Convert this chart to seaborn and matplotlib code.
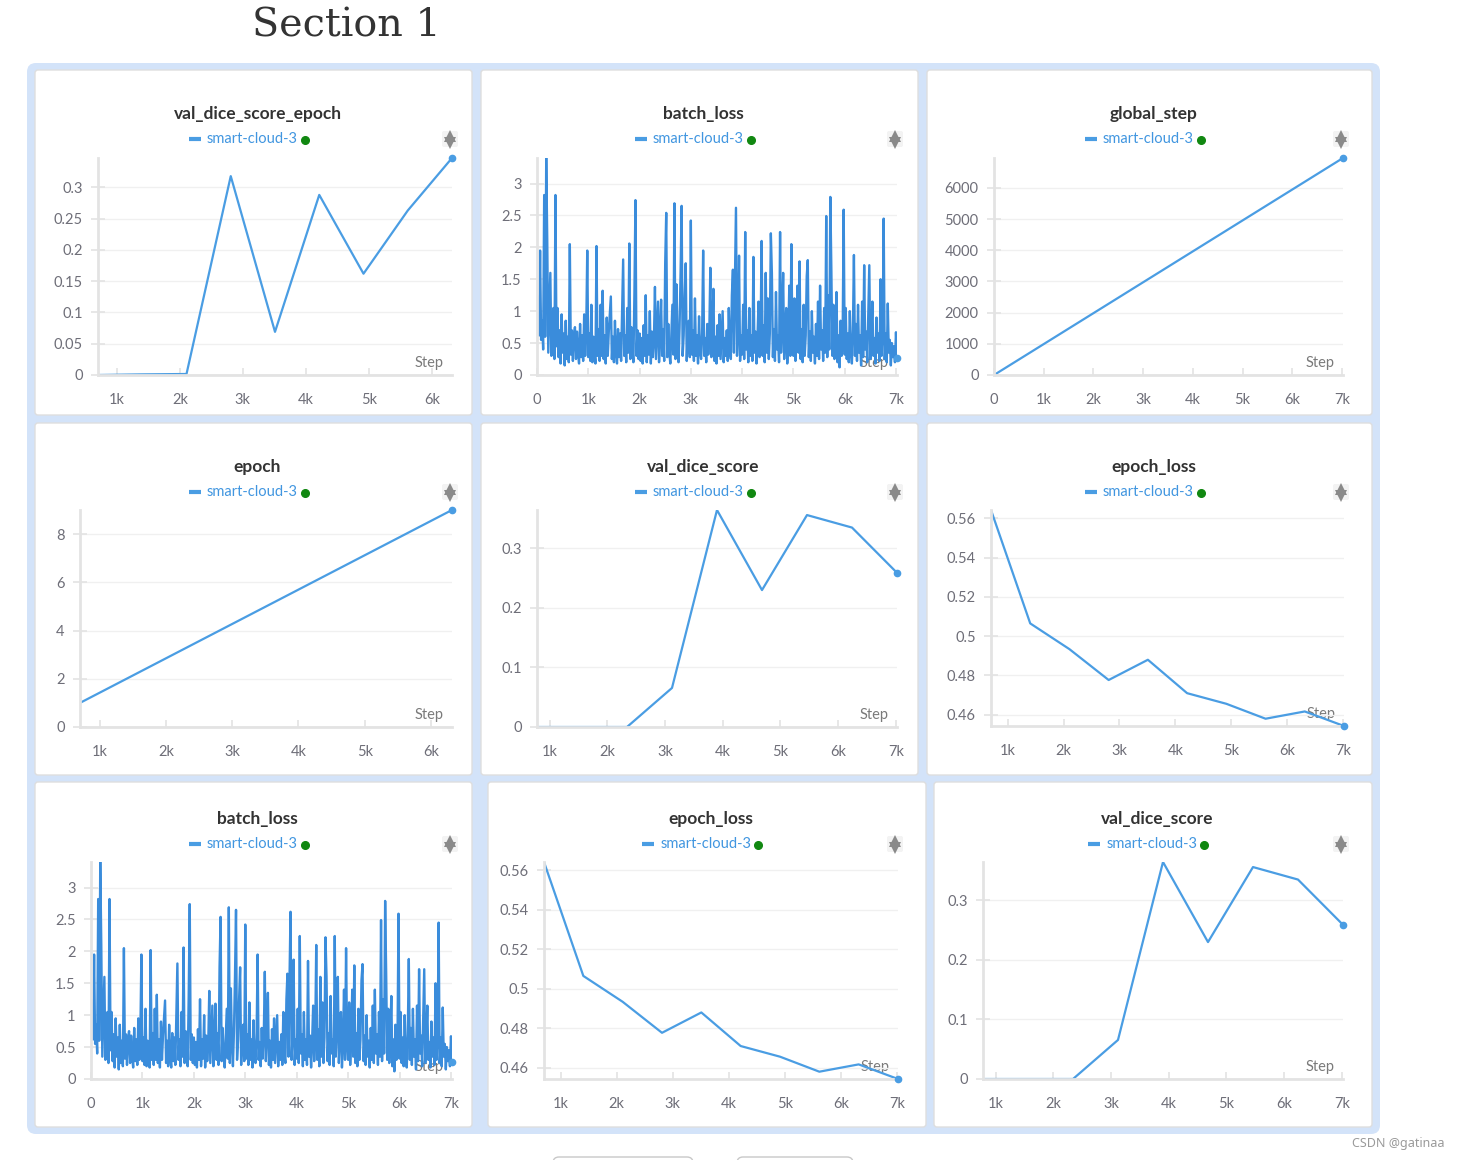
import numpy as np
import pandas as pd
import matplotlib
matplotlib.use('Agg')
import matplotlib.pyplot as plt
from matplotlib.patches import FancyBboxPatch
from matplotlib.ticker import FuncFormatter, MultipleLocator
import seaborn as sns

# ---- data ----
epoch_steps = [702, 1404, 2106, 2808, 3510, 4212, 4914, 5616, 6318, 7020]
val_dice_score_epoch = [0.0, 0.001, 0.0016, 0.318, 0.069, 0.288, 0.162, 0.263, 0.347]
epoch_values = [1, 2, 3, 4, 5, 6, 7, 8, 9]
epoch_loss = [0.5642, 0.5065, 0.4934, 0.4777, 0.4880, 0.4710, 0.4656, 0.4580, 0.4617, 0.4543]

val_steps = [780, 1560, 2340, 3120, 3900, 4680, 5460, 6240, 7020]
val_dice_score = [0.0, 0.0, 0.0, 0.0656, 0.3645, 0.230, 0.356, 0.335, 0.259]

global_step_x = [0, 7020]
global_step_y = [0, 6960]

# batch_loss, one value every 20 steps
batch_loss = [
    1.25, 0.80, 0.62, 1.95, 0.55, 0.85, 0.40, 2.82, 0.60, 3.40,
    2.10, 0.35, 0.95, 1.60, 0.30, 0.80, 1.05, 0.25, 2.82, 0.45,
    1.05, 0.28, 0.70, 0.18, 0.95, 0.35, 0.65, 0.15, 0.85, 0.25,
    0.60, 0.20, 2.05, 0.32, 0.70, 0.22, 0.62, 0.75, 0.25, 0.68,
    0.35, 0.18, 0.80, 0.28, 0.62, 0.22, 0.95, 0.30, 0.70, 1.95,
    0.28, 0.65, 0.22, 1.10, 0.20, 0.60, 0.35, 0.18, 2.02, 0.30,
    0.72, 0.22, 1.10, 0.30, 1.32, 0.25, 0.62, 0.18, 0.90, 0.30,
    0.68, 0.95, 1.23, 0.25, 0.60, 0.20, 0.85, 0.35, 0.18, 0.72,
    0.28, 0.65, 0.22, 1.00, 1.81, 0.30, 0.62, 0.20, 1.05, 0.35,
    2.06, 0.25, 0.75, 0.42, 0.20, 1.30, 2.74, 0.30, 0.70, 0.25,
    0.65, 0.22, 0.58, 0.18, 0.78, 0.30, 1.25, 0.20, 0.62, 0.32,
    1.00, 0.18, 0.68, 0.28, 0.55, 1.38, 0.25, 0.70, 1.15, 0.20,
    0.60, 1.18, 0.30, 0.72, 0.22, 1.75, 2.54, 0.28, 0.80, 0.35,
    0.18, 0.65, 1.10, 0.32, 2.69, 0.25, 1.42, 0.58, 0.20, 0.75,
    1.60, 2.65, 0.30, 0.62, 1.25, 1.75, 0.22, 0.68, 0.85, 0.28,
    2.42, 0.32, 0.70, 0.22, 1.20, 0.30, 0.62, 0.18, 0.92, 0.35,
    0.25, 0.65, 1.95, 0.30, 0.58, 0.20, 0.80, 0.32, 0.68, 1.68,
    0.28, 0.72, 1.35, 0.22, 0.60, 0.18, 0.78, 0.30, 0.95, 0.25,
    0.62, 1.00, 0.20, 0.58, 0.30, 0.70, 0.22, 1.05, 0.38, 0.25,
    1.25, 1.65, 0.35, 1.55, 2.62, 0.30, 0.70, 1.87, 0.22, 0.62,
    0.32, 1.10, 0.25, 2.24, 0.40, 0.70, 0.20, 1.05, 0.30, 0.62,
    0.22, 1.85, 0.35, 0.68, 0.18, 0.60, 1.15, 0.28, 0.65, 2.10,
    0.30, 0.78, 0.20, 1.60, 0.35, 1.20, 0.25, 0.65, 2.22, 1.60,
    0.28, 0.72, 0.22, 1.30, 0.40, 0.62, 0.20, 2.24, 0.35, 0.85,
    1.60, 0.25, 0.68, 1.05, 0.18, 0.60, 1.40, 0.30, 2.05, 0.55,
    0.30, 1.20, 0.22, 0.65, 1.40, 0.35, 1.78, 0.25, 0.72, 0.20,
    1.10, 0.30, 0.62, 1.55, 1.80, 0.28, 0.68, 0.22, 1.00, 0.35,
    0.60, 0.18, 0.80, 0.30, 1.15, 0.25, 1.40, 0.40, 0.70, 0.22,
    1.05, 0.35, 2.49, 0.28, 1.25, 0.40, 2.79, 1.65, 0.30, 1.10,
    0.25, 0.65, 1.30, 0.20, 0.62, 0.12, 0.85, 0.30, 0.58, 2.59,
    0.32, 1.05, 0.25, 0.65, 0.20, 1.00, 0.38, 0.18, 0.70, 1.88,
    0.30, 0.80, 0.22, 1.10, 0.35, 0.62, 0.15, 1.15, 0.28, 1.72,
    0.40, 0.68, 0.20, 1.00, 1.72, 0.25, 0.62, 1.15, 0.30, 0.58,
    0.18, 0.90, 0.35, 0.65, 0.22, 1.50, 0.30, 0.60, 2.45, 0.25,
    0.65, 0.20, 1.12, 0.35, 0.55, 0.15, 0.50, 0.28, 0.45, 0.20,
    0.67, 0.27,
]
batch_steps = np.arange(len(batch_loss)) * 20

run_name = 'smart-cloud-3'

# ---- figure setup ----
W, H = 1460, 1160
sns.set_theme(style='white')
plt.rcParams['font.family'] = ['Lato', 'DejaVu Sans']

LINE = '#4a9de3'
DENSE = '#3a8cdb'
TICK_TXT = '#6e6e78'
AXIS_C = '#e3e3e3'

fig = plt.figure(figsize=(W / 100, H / 100), dpi=100)
fig.patch.set_facecolor('white')
bg = fig.add_axes([0, 0, 1, 1], zorder=0)
bg.set_xlim(0, W)
bg.set_ylim(H, 0)
bg.axis('off')


def px_rect(x0, y0, x1, y1):
    return [x0 / W, 1 - y1 / H, (x1 - x0) / W, (y1 - y0) / H]


bg.text(346, 26, 'Section 1', ha='center', va='center', fontsize=28.5,
        family='DejaVu Serif', color='#333333')

# light blue section container
bg.add_patch(FancyBboxPatch((27, 63), 1353, 1071,
                            boxstyle='round,pad=0,rounding_size=9',
                            fc='#d3e3f9', ec='none'))
# half hidden buttons at the very bottom
for bx, bw in [(553, 140), (737, 116)]:
    bg.add_patch(FancyBboxPatch((bx, 1157), bw, 30,
                                boxstyle='round,pad=0,rounding_size=6',
                                fc='white', ec='#c8c8c8', lw=1))

bg.text(1445, 1143, 'CSDN @gatinaa', ha='right', va='center', fontsize=9,
        color='#9a9a9a', family=['Noto Sans', 'DejaVu Sans'])


def kfmt(v, p):
    if abs(v) < 1e-9:
        return '0'
    return f'{v / 1000:g}k'


panels = [
    # title, x, y, panel box, axes box, y tick step, icon x, line width, ymin, header offset
    ('val_dice_score_epoch', epoch_steps[:9], val_dice_score_epoch,
     (35, 70, 472, 415), (98, 158, 452, 375), 0.05, 450, 1.6, 0.0, 44),
    ('batch_loss', batch_steps, batch_loss,
     (481, 70, 918, 415), (537, 158, 897, 375), 0.5, 895, 1.7, 0.0, 44),
    ('global_step', global_step_x, global_step_y,
     (927, 70, 1372, 415), (994, 158, 1343, 375), 1000, 1341, 1.6, 0.0, 44),
    ('epoch', epoch_steps[:9], epoch_values,
     (35, 423, 472, 775), (80, 510, 452, 727), 2, 450, 1.6, 0.0, 44),
    ('val_dice_score', val_steps, val_dice_score,
     (481, 423, 918, 775), (537, 510, 897, 727), 0.1, 895, 1.6, 0.0, 44),
    ('epoch_loss', epoch_steps, epoch_loss,
     (927, 423, 1372, 775), (991, 510, 1344, 726), 0.02, 1341, 1.6, None, 44),
    ('batch_loss', batch_steps, batch_loss,
     (35, 782, 472, 1127), (91, 862, 452, 1079), 0.5, 450, 1.7, 0.0, 37),
    ('epoch_loss', epoch_steps, epoch_loss,
     (488, 782, 926, 1127), (544, 862, 898, 1079), 0.02, 895, 1.6, None, 37),
    ('val_dice_score', val_steps, val_dice_score,
     (934, 782, 1372, 1127), (983, 862, 1343, 1079), 0.1, 1341, 1.6, 0.0, 37),
]

for title, xs, ys, pbox, abox, ystep, icon_x, lw, ymin, hoff in panels:
    px0, py0, px1, py1 = pbox
    bg.add_patch(FancyBboxPatch((px0, py0), px1 - px0, py1 - py0,
                                boxstyle='round,pad=0,rounding_size=3',
                                fc='white', ec='#dedede', lw=1))
    cx = (px0 + px1) / 2
    bg.text(cx + 4, py0 + hoff, title, ha='center', va='center', fontsize=12.5,
            fontweight='bold', color='#333333')
    ly = py0 + hoff + 25
    bg.plot([cx - 65, cx - 53], [ly, ly], color=LINE, lw=3, solid_capstyle='butt')
    bg.text(cx - 1, ly, run_name, ha='center', va='center', fontsize=10.5, color='#4196e0')
    bg.plot([cx + 51], [ly + 1], 'o', color='#118811', ms=5.5)
    # sort icon
    bg.add_patch(FancyBboxPatch((icon_x - 8, ly - 8), 16, 16,
                                boxstyle='round,pad=0,rounding_size=2',
                                fc='#f3f3f3', ec='none'))
    bg.plot([icon_x], [ly - 3.5], marker='^', color='#8a8a8a', ms=8, mew=0)
    bg.plot([icon_x], [ly + 3.5], marker='v', color='#8a8a8a', ms=8, mew=0)

    ax0, ay0, ax1, ay1 = abox
    bg.text(ax1 - 8, ay1 - 12, 'Step', ha='right', va='center', fontsize=10.5,
            color='#7a7a7a')

    ax = fig.add_axes(px_rect(ax0, ay0, ax1, ay1), zorder=2)
    ax.patch.set_alpha(0)
    df = pd.DataFrame({'step': xs, 'value': ys})
    col = DENSE if len(xs) > 50 else LINE
    sns.lineplot(data=df, x='step', y='value', ax=ax, color=col, linewidth=lw,
                 estimator=None)
    ax.plot([xs[-1]], [ys[-1]], 'o', color=LINE, ms=4.5, clip_on=False, zorder=6)

    ax.set_xlim(xs[0], xs[-1])
    lo = min(ys) if ymin is None else ymin
    ax.set_ylim(lo, max(ys))
    ax.set_xlabel('')
    ax.set_ylabel('')
    ax.xaxis.set_major_locator(MultipleLocator(1000))
    ax.xaxis.set_major_formatter(FuncFormatter(kfmt))
    ax.yaxis.set_major_locator(MultipleLocator(ystep))
    ax.yaxis.set_major_formatter(FuncFormatter(lambda v, p: f'{v:g}'))
    ax.grid(axis='y', color='#f0f0f0', lw=1)
    ax.grid(axis='x', visible=False)
    ax.set_axisbelow(True)
    for s in ['top', 'right']:
        ax.spines[s].set_visible(False)
    for s in ['left', 'bottom']:
        ax.spines[s].set_color(AXIS_C)
        ax.spines[s].set_linewidth(2)
    ax.tick_params(axis='y', direction='inout', length=10, width=1.2, color=AXIS_C,
                   labelsize=10.5, labelcolor=TICK_TXT, pad=6, left=True)
    ax.tick_params(axis='x', direction='in', length=5, width=1.2, color=AXIS_C,
                   labelsize=10.5, labelcolor=TICK_TXT, pad=13, bottom=True)

fig.savefig('out.png', dpi=100, facecolor='white')
